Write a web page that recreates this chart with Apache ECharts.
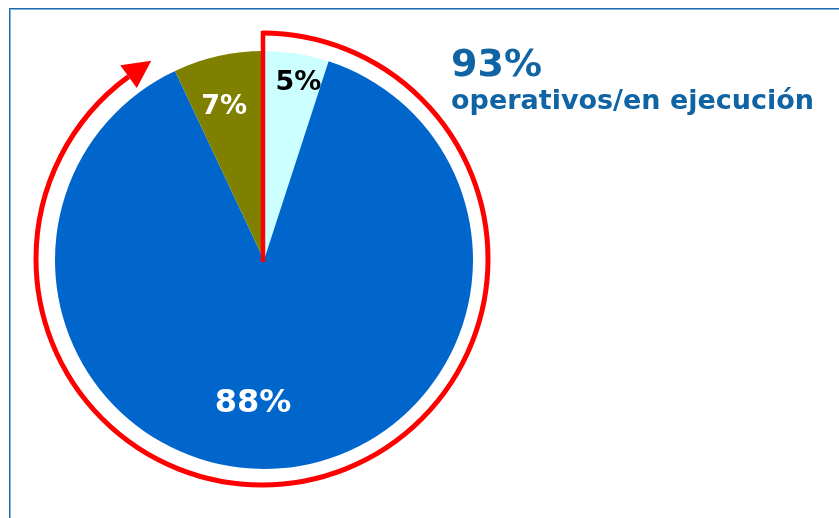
<!DOCTYPE html>
<html>
<head>
<meta charset="utf-8">
<script src="https://cdn.jsdelivr.net/npm/echarts@6/dist/echarts.min.js"></script>
<style>
html, body { margin: 0; padding: 0; background: #fff; overflow: hidden; }
#frame { position: absolute; left: 9px; top: 8px; width: 900px; height: 600px; border: 1px solid #1e69a8; box-shadow: inset 1px 1px 0 #7fb3dd; }
#chart { position: absolute; left: 0; top: 0; width: 839px; height: 518px; }
</style>
</head>
<body>
<div id="frame"></div>
<div id="chart"></div>
<script>
// slices, clockwise from 12 o'clock
const sliceNames = ['En ejecución', 'Operativos', 'Otros'];
const sliceValues = [5, 88, 7];
const sliceColors = ['#ccffff', '#0066cc', '#808000'];
const labelColors = ['#000000', '#ffffff', '#ffffff'];
const labelSizes = [27, 32, 27];
// where the labels sit: share of the radius and a small turn (degrees)
const labelRadius = [0.865, 0.69, 0.755];
const labelTurn = [2, 8, -2];
// headline on the right
const headlineValue = '93%';
const headlineText = 'operativos/en ejecución';
// slices wrapped by the red arrow
const arrowSlices = [0, 1];

const chartDom = document.getElementById('chart');
const chartInstance = echarts.init(chartDom, null, { renderer: 'canvas' });

const cx = 264, cy = 260, R = 209;
const ringCx = 262, ringCy = 259, ringR = 226;
const total = sliceValues.reduce((a, b) => a + b, 0);

// mid angle of each slice (deg, clockwise from top)
const midAngles = [];
let acc = 0;
sliceValues.forEach((v) => {
  midAngles.push((acc + v / 2) / total * 360);
  acc += v;
});

const polar = (x0, y0, r, deg) => {
  const a = deg * Math.PI / 180;
  return [x0 + r * Math.sin(a), y0 - r * Math.cos(a)];
};

// red arrow around the wrapped share
const wrapped = arrowSlices.reduce((s, i) => s + sliceValues[i], 0);
const spanDeg = wrapped / total * 360;
const arcEnd = spanDeg - 11;
const tipDeg = arcEnd + 7;
const base = polar(ringCx, ringCy, ringR, arcEnd);
const outerN = [Math.sin(arcEnd * Math.PI / 180), -Math.cos(arcEnd * Math.PI / 180)];
const tip = polar(ringCx, ringCy, ringR + 1, tipDeg);
const arrowPts = [
  [base[0] + outerN[0] * 14, base[1] + outerN[1] * 14],
  tip,
  [base[0] - outerN[0] * 14, base[1] - outerN[1] * 14]
];

const font = 'DejaVu Sans, Verdana, sans-serif';

const option = {
  animation: false,
  backgroundColor: 'transparent',
  title: [
    {
      text: headlineValue,
      left: 451,
      top: 47,
      padding: 0,
      textStyle: { fontFamily: font, fontWeight: 'bold', fontSize: 38, color: '#1064a3' }
    },
    {
      text: headlineText,
      left: 451,
      top: 88,
      padding: 0,
      textStyle: { fontFamily: font, fontWeight: 'bold', fontSize: 27, color: '#1064a3' }
    }
  ],
  series: [
    {
      type: 'pie',
      center: [cx, cy],
      radius: R,
      startAngle: 90,
      clockwise: true,
      silent: true,
      itemStyle: { borderWidth: 0 },
      label: {
        show: true,
        position: 'inside',
        fontFamily: font,
        fontWeight: 'bold',
        formatter: (p) => p.value + '%'
      },
      labelLine: { show: false },
      emphasis: { disabled: true },
      labelLayout: (p) => {
        const i = p.dataIndex;
        const pt = polar(cx, cy, R * labelRadius[i], midAngles[i] + labelTurn[i]);
        return { x: pt[0], y: pt[1], align: 'center', verticalAlign: 'middle' };
      },
      data: sliceValues.map((v, i) => ({
        value: v,
        name: sliceNames[i],
        itemStyle: { color: sliceColors[i] },
        label: { color: labelColors[i], fontSize: labelSizes[i] }
      }))
    }
  ],
  graphic: [
    {
      type: 'arc',
      silent: true,
      z: 10,
      shape: {
        cx: ringCx,
        cy: ringCy,
        r: ringR,
        startAngle: -Math.PI / 2,
        endAngle: -Math.PI / 2 + arcEnd * Math.PI / 180,
        clockwise: true
      },
      style: { stroke: '#ff0000', lineWidth: 5, fill: 'none' }
    },
    {
      type: 'line',
      silent: true,
      z: 10,
      shape: { x1: cx - 1, y1: cy + 2, x2: cx - 1, y2: ringCy - ringR - 2 },
      style: { stroke: '#ff0000', lineWidth: 4.5 }
    },
    {
      type: 'polygon',
      silent: true,
      z: 10,
      shape: { points: arrowPts },
      style: { fill: '#ff0000' }
    }
  ]
};

chartInstance.setOption(option);
window.addEventListener('resize', () => chartInstance.resize());
</script>
</body>
</html>
